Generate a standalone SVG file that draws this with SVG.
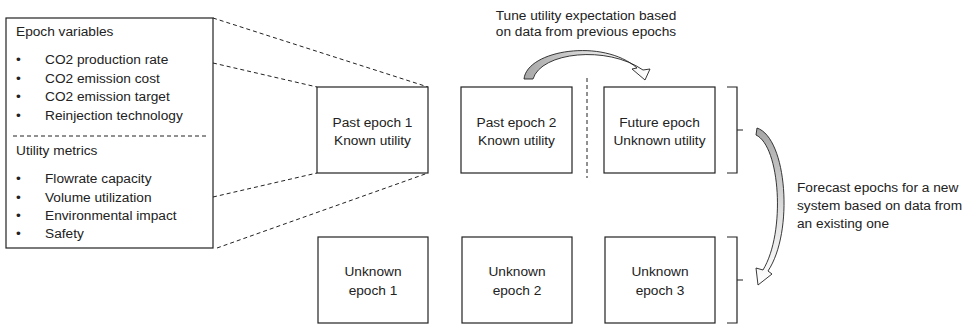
<svg xmlns="http://www.w3.org/2000/svg" width="970" height="325" viewBox="0 0 970 325">
<style>
text{font-family:"Liberation Sans",Arial,sans-serif;font-size:13.7px;fill:#222}
.box{fill:#fff;stroke:#222;stroke-width:1.2}
.dash{fill:none;stroke:#222;stroke-width:1;stroke-dasharray:4 3}
.br{fill:none;stroke:#222;stroke-width:1.2}
.c{text-anchor:middle}
.arr{stroke:#222;stroke-width:0.9;stroke-linejoin:round}
</style>
<defs>
<linearGradient id="g1" x1="0" y1="0" x2="1" y2="0"><stop offset="0" stop-color="#a6a6a6"/><stop offset="0.55" stop-color="#e0e0e0"/><stop offset="1" stop-color="#fff"/></linearGradient>
<linearGradient id="g2" x1="0" y1="0" x2="0" y2="1"><stop offset="0" stop-color="#a6a6a6"/><stop offset="0.55" stop-color="#e0e0e0"/><stop offset="1" stop-color="#fff"/></linearGradient>
</defs>
<g id="connectors">
<path class="dash" d="M213 18 L428 87"/>
<path class="dash" d="M213 63 L317 87"/>
<path class="dash" d="M213 197 L317 173"/>
<path class="dash" d="M217 248 L428 173"/>
<path class="dash" d="M587 78 L587 178"/>
<path class="arr" fill="url(#g1)" d="M524 79 C527 50 603 38 637 68 L632 69 L645 80 L650 69 L643 70 C607 45 541 52 533 79 Z"/>
<path class="arr" fill="url(#g2)" d="M757 128 C787 138 794 232 768 271 L772 274 L758 285 L756 268 L763 270 C786 232 780 146 756 135 Z"/>
<path class="br" d="M727 87 H737 V173 H727 M737 130 H743"/>
<path class="br" d="M727 237 H737 V323 H727 M737 280 H743"/>
</g>
<g id="variables">
<rect class="box" x="6" y="18" width="207" height="230"/>
<text x="16" y="36">Epoch variables</text>
<text x="16" y="64">•</text><text x="45" y="64">CO2 production rate</text>
<text x="16" y="83">•</text><text x="45" y="83">CO2 emission cost</text>
<text x="16" y="101">•</text><text x="45" y="101">CO2 emission target</text>
<text x="16" y="120">•</text><text x="45" y="120">Reinjection technology</text>
<path class="dash" d="M13 136 H207"/>
<text x="16" y="155">Utility metrics</text>
<text x="16" y="183">•</text><text x="45" y="183">Flowrate capacity</text>
<text x="16" y="202">•</text><text x="45" y="202">Volume utilization</text>
<text x="16" y="220">•</text><text x="45" y="220">Environmental impact</text>
<text x="16" y="238">•</text><text x="45" y="238">Safety</text>
</g>
<g id="past1">
<rect class="box" x="317" y="87" width="111" height="86"/>
<text class="c" x="372.5" y="127">Past epoch 1</text>
<text class="c" x="372.5" y="145">Known utility</text>
</g>
<g id="past2">
<rect class="box" x="461" y="87" width="111" height="86"/>
<text class="c" x="516.5" y="127">Past epoch 2</text>
<text class="c" x="516.5" y="145">Known utility</text>
</g>
<g id="future">
<rect class="box" x="604" y="87" width="111" height="86"/>
<text class="c" x="659.5" y="127">Future epoch</text>
<text class="c" x="659.5" y="145">Unknown utility</text>
</g>
<g id="unknown1">
<rect class="box" x="318" y="237" width="110" height="86"/>
<text class="c" x="373" y="276">Unknown</text>
<text class="c" x="373" y="295">epoch 1</text>
</g>
<g id="unknown2">
<rect class="box" x="462" y="237" width="110" height="86"/>
<text class="c" x="517" y="276">Unknown</text>
<text class="c" x="517" y="295">epoch 2</text>
</g>
<g id="unknown3">
<rect class="box" x="605" y="237" width="110" height="86"/>
<text class="c" x="660" y="276">Unknown</text>
<text class="c" x="660" y="295">epoch 3</text>
</g>
<g id="labels">
<text class="c" x="586" y="20">Tune utility expectation based</text>
<text class="c" x="586" y="36">on data from previous epochs</text>
<text x="797" y="192">Forecast epochs for a new</text>
<text x="797" y="210">system based on data from</text>
<text x="797" y="228">an existing one</text>
</g>
</svg>
